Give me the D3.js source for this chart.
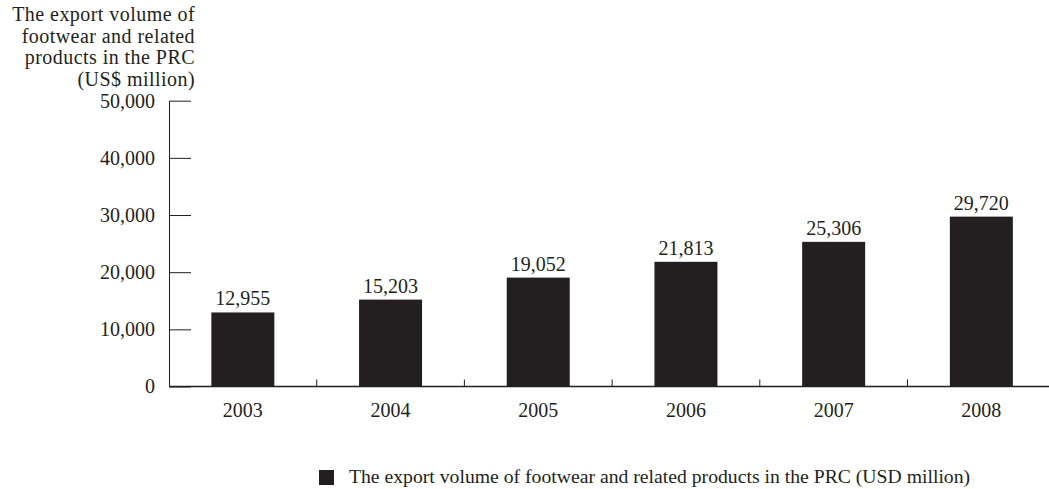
<!DOCTYPE html>
<html>
<head>
<meta charset="utf-8">
<script src="https://cdn.jsdelivr.net/npm/d3@7"></script>
<style>
  body { margin: 0; background: #fff; overflow: hidden; }
  svg { display: block; }
  text { font-family: "Liberation Serif", "DejaVu Serif", serif; fill: #231f20; }
</style>
</head>
<body>
<script>
// data
var years = ["2003", "2004", "2005", "2006", "2007", "2008"];
var exportValues = [12955, 15203, 19052, 21813, 25306, 29720];
var yTicks = [0, 10000, 20000, 30000, 40000, 50000];
var titleLines = ["The export volume of", "footwear and related", "products in the PRC", "(US$ million)"];
var legendLabel = "The export volume of footwear and related products in the PRC (USD million)";

var W = 1049, H = 489;
var ink = "#231f20";

var svg = d3.select("body")
    .append("svg")
    .attr("width", W)
    .attr("height", H);

// scales
var x0 = 169, step = 147.7;
var x = d3.scaleBand()
    .domain(years)
    .range([x0, x0 + step * years.length])
    .paddingInner(0.5735)
    .paddingOuter(0.5735 / 2);

var y = d3.scaleLinear()
    .domain([0, 50000])
    .range([386.5, 100.7]);

// y axis, ticks pointing inward
var yAxis = svg.append("g")
    .attr("transform", "translate(" + x0 + ",0)")
    .call(d3.axisLeft(y).tickValues(yTicks).tickFormat(d3.format(","))
        .tickSizeInner(-22).tickSizeOuter(0).tickPadding(14));
yAxis.selectAll("line").attr("stroke", ink);
yAxis.select(".domain").attr("stroke", ink);
yAxis.selectAll("text")
    .style("font-family", "Liberation Serif")
    .style("font-size", "20px")
    .attr("fill", ink);

// x axis line
svg.append("line")
    .attr("x1", x0).attr("x2", W)
    .attr("y1", y(0)).attr("y2", y(0))
    .attr("stroke", ink).attr("stroke-width", 1.3);

// small category separators
svg.selectAll(".sep")
    .data(years.slice(1))
    .enter()
    .append("line")
    .attr("x1", function(d) { return x(d) - x.step() * x.paddingInner() / 2; })
    .attr("x2", function(d) { return x(d) - x.step() * x.paddingInner() / 2; })
    .attr("y1", y(0)).attr("y2", y(0) - 7)
    .attr("stroke", ink);

// bars
svg.selectAll(".bar")
    .data(exportValues)
    .enter()
    .append("rect")
    .attr("x", function(d, i) { return x(years[i]); })
    .attr("y", function(d) { return y(d); })
    .attr("width", x.bandwidth())
    .attr("height", function(d) { return y(0) - y(d); })
    .attr("fill", ink);

// value labels
svg.selectAll(".val")
    .data(exportValues)
    .enter()
    .append("text")
    .attr("x", function(d, i) { return x(years[i]) + x.bandwidth() / 2; })
    .attr("y", function(d) { return y(d) - 7; })
    .attr("text-anchor", "middle")
    .style("font-size", "20px")
    .text(function(d) { return d3.format(",")(d); });

// year labels
svg.selectAll(".yr")
    .data(years)
    .enter()
    .append("text")
    .attr("x", function(d) { return x(d) + x.bandwidth() / 2; })
    .attr("y", 417)
    .attr("text-anchor", "middle")
    .style("font-size", "20px")
    .text(function(d) { return d; });

// axis title
svg.selectAll(".title")
    .data(titleLines)
    .enter()
    .append("text")
    .attr("x", 195)
    .attr("y", function(d, i) { return 21 + i * 21.5; })
    .attr("text-anchor", "end")
    .style("font-size", "20px")
    .style("letter-spacing", "0.45px")
    .text(function(d) { return d; });

// legend
svg.append("rect")
    .attr("x", 319).attr("y", 470)
    .attr("width", 15).attr("height", 15)
    .attr("fill", ink);
svg.append("text")
    .attr("x", 349).attr("y", 483)
    .style("font-size", "19.7px")
    .text(legendLabel);
</script>
</body>
</html>
